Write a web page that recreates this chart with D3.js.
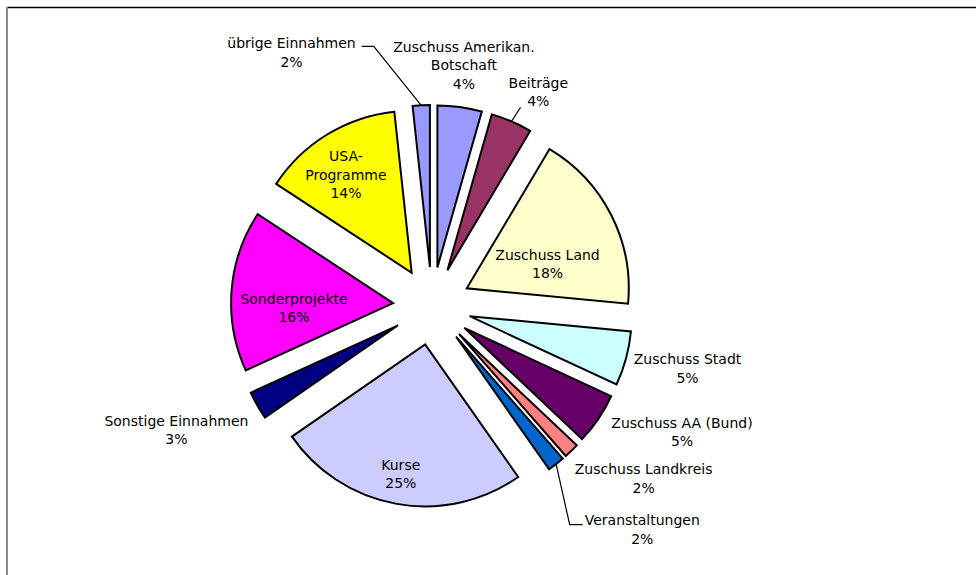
<!DOCTYPE html>
<html>
<head>
<meta charset="utf-8">
<script src="https://cdn.jsdelivr.net/npm/d3@7"></script>
<style>
  body { margin: 0; background: #fff; }
  svg { display: block; }
  .lbl { font-family: "DejaVu Sans", Verdana, sans-serif; font-size: 14px; fill: #000; }
</style>
</head>
<body>
<svg id="chart" width="976" height="575"></svg>
<script>
// slice data, clockwise from 12 o'clock
const categories = [
  "Zuschuss Amerikan.\nBotschaft", "Beiträge", "Zuschuss Land", "Zuschuss Stadt",
  "Zuschuss AA (Bund)", "Zuschuss Landkreis", "Veranstaltungen", "Kurse",
  "Sonstige Einnahmen", "Sonderprojekte", "USA-\nProgramme", "übrige Einnahmen"
];
const values = [4.4, 4.1, 17.9, 5.4, 5.1, 1.5, 1.7, 25, 2.8, 16, 14, 1.7];
const colors = ["#9999FF", "#993366", "#FFFFCC", "#CCFFFF", "#660066", "#FF8080",
                "#0066CC", "#CCCCFF", "#000080", "#FF00FF", "#FFFF00", "#9999FF"];

// label layout (angle tweak in degrees from slice middle, distance from pie centre)
const labelAngleAdj = [-0.4, 3.1, 6.9, -1.5, -7.4, -6.9, -5.1, 0.4, 3.8, -5.1, -1.8, -25.9];
const labelRadius  = [243, 239, 123, 263, 280, 273, 307, 171, 284, 138, 157, 290];
// leader lines: none / straight / elbow
const leaders = ["none", "straight", "none", "none", "none", "none", "elbowL", "none", "none", "none", "none", "elbowR"];

const cx = 432, cy = 306, radius = 162, explode = 39, lineH = 18.6;

const svg = d3.select("#chart");

// chart area border (clipped like the original)
svg.append("line").attr("x1", 7).attr("x2", 976).attr("y1", 7.5).attr("y2", 7.5)
  .attr("stroke", "#000").attr("stroke-width", 1.5);
svg.append("line").attr("x1", 7).attr("x2", 7).attr("y1", 7).attr("y2", 575)
  .attr("stroke", "#888").attr("stroke-width", 2);

const data = categories.map((c, i) => ({ name: c, value: values[i], color: colors[i] }));
const total = d3.sum(values);

const pie = d3.pie().sort(null).value(d => d.value);
const arcs = pie(data);
const arc = d3.arc().innerRadius(0).outerRadius(radius);

const g = svg.append("g").attr("transform", "translate(" + cx + "," + cy + ")");

const mid = d => (d.startAngle + d.endAngle) / 2;

g.selectAll(".slice")
  .data(arcs)
  .enter()
  .append("path")
  .attr("class", "slice")
  .attr("transform", d => "translate(" + explode * Math.sin(mid(d)) + "," + (-explode * Math.cos(mid(d))) + ")")
  .attr("d", arc)
  .attr("fill", d => d.data.color)
  .attr("stroke", "#000")
  .attr("stroke-width", 2);

const labels = g.selectAll(".lbl")
  .data(arcs)
  .enter()
  .append("text")
  .attr("class", "lbl")
  .attr("text-anchor", "middle")
  .each(function (d, i) {
    const a = mid(d) + labelAngleAdj[i] * Math.PI / 180;
    const x = labelRadius[i] * Math.sin(a);
    const y = -labelRadius[i] * Math.cos(a);
    const lines = d.data.name.split("\n").concat([Math.round(d.data.value / total * 100) + "%"]);
    const top = y - (lines.length - 1) * lineH / 2;
    const t = d3.select(this);
    lines.forEach((s, k) => {
      t.append("tspan").attr("x", x).attr("y", top + k * lineH).attr("dy", "0.36em").text(s);
    });
  });

// leader lines
labels.each(function (d, i) {
  if (leaders[i] === "none") return;
  const b = this.getBBox();
  const r = radius + explode;
  const p = [r * Math.sin(mid(d)), -r * Math.cos(mid(d))];
  let pts;
  if (leaders[i] === "straight") {
    pts = [p, [b.x + 12, b.y + b.height - 2]];
  } else if (leaders[i] === "elbowL") {
    const yy = b.y + lineH * 0.5 + 3;
    pts = [p, [b.x - 15, yy], [b.x - 2, yy]];
  } else {
    const yy = b.y + lineH * 0.5 + 2;
    pts = [p, [b.x + b.width + 18, yy], [b.x + b.width + 6, yy]];
  }
  g.append("path")
    .attr("d", d3.line()(pts))
    .attr("fill", "none")
    .attr("stroke", "#000")
    .attr("stroke-width", 1.2);
});
</script>
</body>
</html>
